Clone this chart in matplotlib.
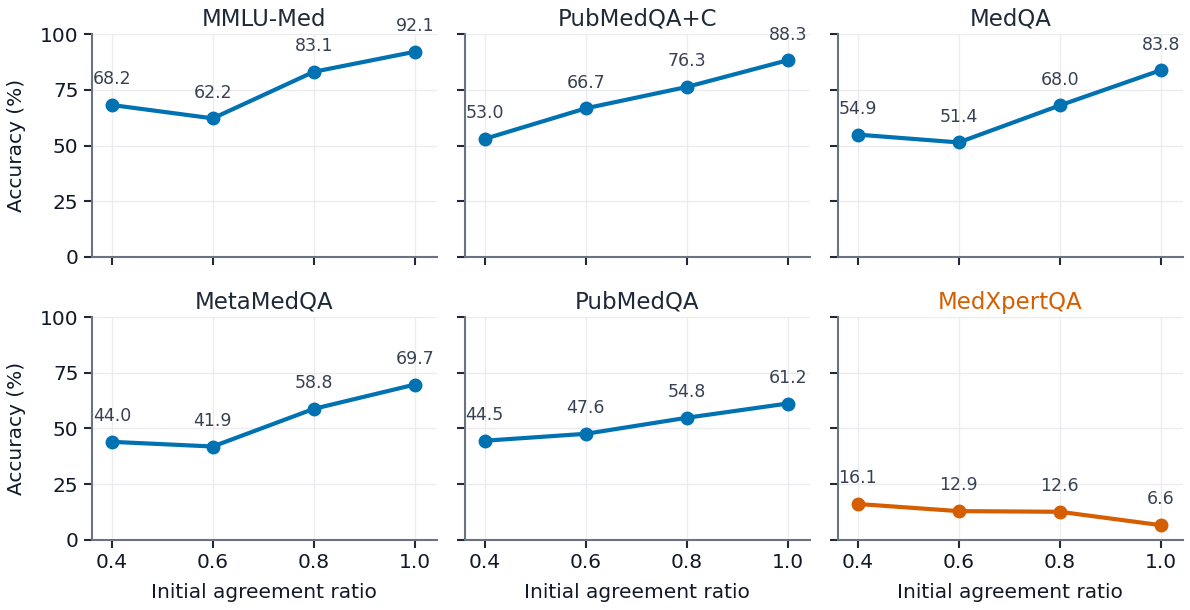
import numpy as np
import matplotlib.pyplot as plt

# datos
ratios = [0.4, 0.6, 0.8, 1.0]
titulos = ["MMLU-Med", "PubMedQA+C", "MedQA", "MetaMedQA", "PubMedQA", "MedXpertQA"]
mmlu_med = [68.2, 62.2, 83.1, 92.1]
pubmedqa_c = [53.0, 66.7, 76.3, 88.3]
medqa = [54.9, 51.4, 68.0, 83.8]
metamedqa = [44.0, 41.9, 58.8, 69.7]
pubmedqa = [44.5, 47.6, 54.8, 61.2]
medxpertqa = [16.1, 12.9, 12.6, 6.6]
series = [mmlu_med, pubmedqa_c, medqa, metamedqa, pubmedqa, medxpertqa]

azul = "#0072B2"
naranja = "#D55E00"
gris = "#6b7280"

fig, axes = plt.subplots(2, 3, figsize=(11.9, 6.1), dpi=100, sharey=True)
fig.subplots_adjust(left=0.077, right=0.994, top=0.944, bottom=0.115, wspace=0.08, hspace=0.27)

for i, ax in enumerate(axes.flat):
    color = naranja if titulos[i] == "MedXpertQA" else azul
    ax.plot(ratios, series[i], color=color, lw=3, marker="o", ms=9, clip_on=False, zorder=3)
    for x, y in zip(ratios, series[i]):
        ax.annotate(f"{y:.1f}", (x, y), xytext=(0, 12), textcoords="offset points",
                    ha="center", va="bottom", fontsize=12.5, color="#374151")
    ax.set_title(titulos[i], fontsize=16.5, color=naranja if titulos[i] == "MedXpertQA" else "#1f2937", pad=6)
    ax.set_xlim(0.36, 1.044)
    ax.set_ylim(0, 100)
    ax.set_xticks(ratios)
    ax.set_yticks([0, 25, 50, 75, 100])
    ax.grid(True, color="#ececf0", lw=1)
    ax.set_axisbelow(True)
    for s in ["top", "right"]:
        ax.spines[s].set_visible(False)
    for s in ["left", "bottom"]:
        ax.spines[s].set_color(gris)
        ax.spines[s].set_linewidth(1.5)
    ax.tick_params(labelsize=14.5, length=6, width=1.5, color="#1f2937", labelcolor="#111827")
    if i < 3:
        ax.tick_params(labelbottom=False)
    else:
        ax.set_xlabel("Initial agreement ratio", fontsize=14.5, color="#111827", labelpad=8)
        ax.set_xticklabels(["0.4", "0.6", "0.8", "1.0"])
    if i % 3 == 0:
        ax.set_ylabel("Accuracy (%)", fontsize=14.5, color="#111827", labelpad=10)

fig.savefig("out.png", dpi=100)
